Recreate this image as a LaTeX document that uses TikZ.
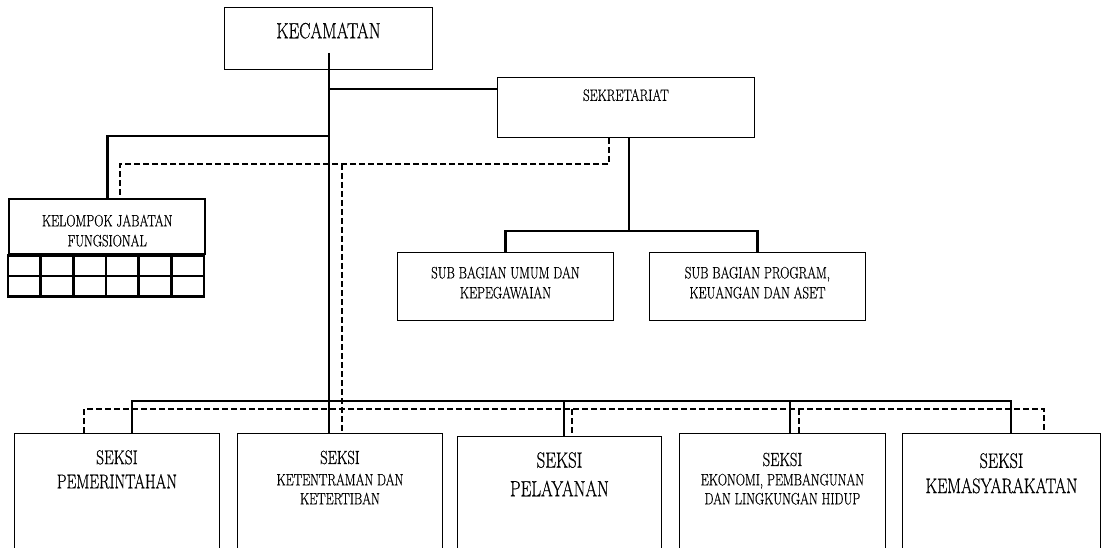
\documentclass[tikz,border=0pt]{standalone}
\usepackage{fontspec}
\setmainfont{Latin Modern Roman}[FakeStretch=0.77, FakeBold=0.6]
\usetikzlibrary{positioning}

\tikzset{
  orgbox/.style={draw, line width=0.9pt, anchor=north west, inner sep=0pt},
  link/.style={line width=2.6pt},
  dlink/.style={line width=1.9pt, dash pattern=on 6pt off 3pt},
  txt/.style={inner sep=0pt, align=center, font=\fontsize{16.5}{20}\selectfont},
  bigtxt/.style={inner sep=0pt, align=center, font=\fontsize{22}{26}\selectfont},
  seksitxt/.style={inner sep=0pt, align=center, font=\fontsize{20}{24}\selectfont},
  smalltxt/.style={inner sep=0pt, align=center, font=\fontsize{16.5}{19}\selectfont}
}

\begin{document}
\begin{tikzpicture}[x=1pt, y=-1pt]
  \useasboundingbox (0,0) rectangle (1106,548);
  \clip (0,0) rectangle (1106,548);

  % boxes
  \node[orgbox, minimum width=208pt, minimum height=62pt] (kec)  at (224,7)   {};
  \node[orgbox, minimum width=257pt, minimum height=60pt] (sek)  at (497,77)  {};
  \node[orgbox, line width=2.4pt, minimum width=196pt, minimum height=55pt] (kel) at (8,198) {};
  \node[orgbox, minimum width=216pt, minimum height=68pt] (sub1) at (397,252) {};
  \node[orgbox, minimum width=216pt, minimum height=68pt] (sub2) at (649,252) {};
  \node[orgbox, minimum width=205pt, minimum height=130pt] (s1) at (14,433)  {};
  \node[orgbox, minimum width=205pt, minimum height=130pt] (s2) at (237,433) {};
  \node[orgbox, minimum width=204pt, minimum height=130pt] (s3) at (457,436) {};
  \node[orgbox, minimum width=206pt, minimum height=130pt] (s4) at (679,433) {};
  \node[orgbox, minimum width=198pt, minimum height=130pt] (s5) at (902,433) {};

  % table under the functional group
  \draw[line width=2.4pt] (kel.south west) rectangle ++(196,41);
  \draw[line width=2.4pt] (kel.south west) ++(0,20.5) -- ++(196,0);
  \foreach \i in {1,...,5}
    \draw[line width=2.4pt] (kel.south west) ++(\i*32.67,0) -- ++(0,41);

  % texts
  \node[bigtxt, below=15.5pt of kec.north] {KECAMATAN};
  \node[txt, below=12pt of sek.north] {SEKRETARIAT};
  \node[txt, below=16.5pt of kel.north] {KELOMPOK JABATAN\\FUNGSIONAL};
  \node[txt, below=14.5pt of sub1.north] {SUB BAGIAN UMUM DAN\\KEPEGAWAIAN};
  \node[txt, below=14.5pt of sub2.north] {SUB BAGIAN PROGRAM,\\KEUANGAN DAN ASET};

  \node[seksitxt, below=17pt of s1.north] {SEKSI};
  \node[seksitxt, below=41pt of s1.north] {PEMERINTAHAN};
  \node[seksitxt, font=\fontsize{19}{23}\selectfont, below=17.5pt of s2.north] {SEKSI};
  \node[smalltxt, below=40.5pt of s2.north] {KETENTRAMAN DAN\\KETERTIBAN};
  \node[seksitxt, font=\fontsize{22}{26}\selectfont, below=16pt of s3.north] {SEKSI};
  \node[seksitxt, font=\fontsize{22}{26}\selectfont, below=44.5pt of s3.north] {PELAYANAN};
  \node[seksitxt, font=\fontsize{19}{23}\selectfont, below=19.5pt of s4.north] {SEKSI};
  \node[smalltxt, below=40.5pt of s4.north] {EKONOMI, PEMBANGUNAN\\DAN LINGKUNGAN HIDUP};
  \node[seksitxt, font=\fontsize{21}{25}\selectfont, below=20pt of s5.north] {SEKSI};
  \node[seksitxt, font=\fontsize{21}{25}\selectfont, below=45pt of s5.north] {KEMASYARAKATAN};

  % solid lines of command
  \coordinate (top)  at (329,53);
  \coordinate (jsek) at (329,89);
  \coordinate (jkel) at (329,136);
  \coordinate (jsub) at (629,231);
  \coordinate (busL) at (132,401);
  \coordinate (busR) at (1011,401);
  \draw[link] (top) -- (top |- s2.north);
  \draw[link] (jsek) -- (jsek -| sek.west);
  \draw[link] (jkel) -| (kel.north);
  \draw[link] (jsub |- sek.south) -- (jsub);
  \draw[link] (sub1.north) |- (jsub) -| (sub2.north);
  \draw[link] (s1.north -| busL) |- (busR) -- (s5.north -| busR);
  \foreach \s/\x in {s3/564, s4/790}
    \draw[link] (\x,401) -- (\s.north -| \x,0);

  % dashed lines of coordination
  \coordinate (dsek)  at (609,164);
  \coordinate (dtop)  at (342,164);
  \coordinate (dbusL) at (84,409);
  \coordinate (dbusR) at (1044,409);
  \draw[dlink] (dsek |- sek.south) -- (dsek) -| ([xshift=13pt]kel.north);
  \draw[dlink] (dtop) -- (dtop |- s2.north);
  \draw[dlink] (s1.north -| dbusL) |- (dbusR) -- (s5.north -| dbusR);
  \foreach \s/\x in {s3/572, s4/799}
    \draw[dlink] (\x,409) -- (\s.north -| \x,0);
\end{tikzpicture}
\end{document}
